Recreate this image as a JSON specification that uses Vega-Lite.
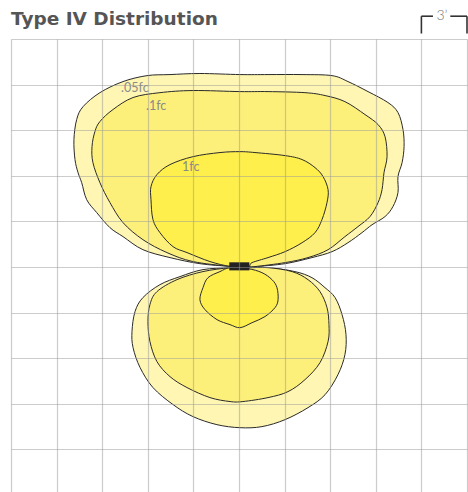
{
  "$schema": "https://vega.github.io/schema/vega-lite/v6.json",
  "width": 456,
  "height": 453,
  "autosize": "none",
  "padding": {"left": 11, "top": 39, "right": 1, "bottom": 0},
  "background": "white",
  "config": {"view": {"stroke": null}},
  "title": {"text": "Type IV Distribution", "anchor": "start", "frame": "group", "fontSize": 18.5, "fontWeight": "bold", "font": "DejaVu Sans", "color": "#555555", "offset": 8, "dy": 27.5},
  "datasets": {
    "contours": [
      {"lv": "0.05", "lobe": "up", "i": 0, "x": -0.6, "y": 0.05},
      {"lv": "0.05", "lobe": "up", "i": 1, "x": -2.57, "y": 0.22},
      {"lv": "0.05", "lobe": "up", "i": 2, "x": -4.54, "y": 0.62},
      {"lv": "0.05", "lobe": "up", "i": 3, "x": -6.32, "y": 1.14},
      {"lv": "0.05", "lobe": "up", "i": 4, "x": -7.63, "y": 2.0},
      {"lv": "0.05", "lobe": "up", "i": 5, "x": -8.49, "y": 2.59},
      {"lv": "0.05", "lobe": "up", "i": 6, "x": -9.36, "y": 3.58},
      {"lv": "0.05", "lobe": "up", "i": 7, "x": -10.02, "y": 4.43},
      {"lv": "0.05", "lobe": "up", "i": 8, "x": -10.35, "y": 5.55},
      {"lv": "0.05", "lobe": "up", "i": 9, "x": -10.59, "y": 6.21},
      {"lv": "0.05", "lobe": "up", "i": 10, "x": -10.79, "y": 7.07},
      {"lv": "0.05", "lobe": "up", "i": 11, "x": -10.86, "y": 8.38},
      {"lv": "0.05", "lobe": "up", "i": 12, "x": -10.68, "y": 9.7},
      {"lv": "0.05", "lobe": "up", "i": 13, "x": -10.26, "y": 10.55},
      {"lv": "0.05", "lobe": "up", "i": 14, "x": -9.15, "y": 11.47},
      {"lv": "0.05", "lobe": "up", "i": 15, "x": -7.63, "y": 12.2},
      {"lv": "0.05", "lobe": "up", "i": 16, "x": -6.05, "y": 12.59},
      {"lv": "0.05", "lobe": "up", "i": 17, "x": -4.54, "y": 12.66},
      {"lv": "0.05", "lobe": "up", "i": 18, "x": -2.57, "y": 12.73},
      {"lv": "0.05", "lobe": "up", "i": 19, "x": 0.07, "y": 12.66},
      {"lv": "0.05", "lobe": "up", "i": 20, "x": 1.91, "y": 12.66},
      {"lv": "0.05", "lobe": "up", "i": 21, "x": 4.15, "y": 12.66},
      {"lv": "0.05", "lobe": "up", "i": 22, "x": 6.12, "y": 12.59},
      {"lv": "0.05", "lobe": "up", "i": 23, "x": 7.17, "y": 12.2},
      {"lv": "0.05", "lobe": "up", "i": 24, "x": 8.49, "y": 11.54},
      {"lv": "0.05", "lobe": "up", "i": 25, "x": 9.8, "y": 10.82},
      {"lv": "0.05", "lobe": "up", "i": 26, "x": 10.46, "y": 10.16},
      {"lv": "0.05", "lobe": "up", "i": 27, "x": 10.79, "y": 9.04},
      {"lv": "0.05", "lobe": "up", "i": 28, "x": 10.86, "y": 7.92},
      {"lv": "0.05", "lobe": "up", "i": 29, "x": 10.73, "y": 6.87},
      {"lv": "0.05", "lobe": "up", "i": 30, "x": 10.46, "y": 5.95},
      {"lv": "0.05", "lobe": "up", "i": 31, "x": 10.46, "y": 4.9},
      {"lv": "0.05", "lobe": "up", "i": 32, "x": 10.13, "y": 3.98},
      {"lv": "0.05", "lobe": "up", "i": 33, "x": 9.61, "y": 3.32},
      {"lv": "0.05", "lobe": "up", "i": 34, "x": 8.75, "y": 2.78},
      {"lv": "0.05", "lobe": "up", "i": 35, "x": 8.09, "y": 2.26},
      {"lv": "0.05", "lobe": "up", "i": 36, "x": 7.17, "y": 1.6},
      {"lv": "0.05", "lobe": "up", "i": 37, "x": 6.12, "y": 1.01},
      {"lv": "0.05", "lobe": "up", "i": 38, "x": 4.8, "y": 0.62},
      {"lv": "0.05", "lobe": "up", "i": 39, "x": 3.03, "y": 0.22},
      {"lv": "0.05", "lobe": "up", "i": 40, "x": 1.05, "y": 0.03},
      {"lv": "0.05", "lobe": "up", "i": 41, "x": 0.6, "y": 0.05},

      {"lv": "0.1", "lobe": "up", "i": 0, "x": -0.6, "y": 0.05},
      {"lv": "0.1", "lobe": "up", "i": 1, "x": -3.03, "y": 0.36},
      {"lv": "0.1", "lobe": "up", "i": 2, "x": -4.74, "y": 0.95},
      {"lv": "0.1", "lobe": "up", "i": 3, "x": -6.32, "y": 1.8},
      {"lv": "0.1", "lobe": "up", "i": 4, "x": -7.63, "y": 2.92},
      {"lv": "0.1", "lobe": "up", "i": 5, "x": -8.49, "y": 4.24},
      {"lv": "0.1", "lobe": "up", "i": 6, "x": -9.15, "y": 5.55},
      {"lv": "0.1", "lobe": "up", "i": 7, "x": -9.61, "y": 6.87},
      {"lv": "0.1", "lobe": "up", "i": 8, "x": -9.67, "y": 7.92},
      {"lv": "0.1", "lobe": "up", "i": 9, "x": -9.48, "y": 8.91},
      {"lv": "0.1", "lobe": "up", "i": 10, "x": -9.15, "y": 9.57},
      {"lv": "0.1", "lobe": "up", "i": 11, "x": -8.29, "y": 10.36},
      {"lv": "0.1", "lobe": "up", "i": 12, "x": -6.97, "y": 11.15},
      {"lv": "0.1", "lobe": "up", "i": 13, "x": -5.2, "y": 11.47},
      {"lv": "0.1", "lobe": "up", "i": 14, "x": -3.03, "y": 11.61},
      {"lv": "0.1", "lobe": "up", "i": 15, "x": 0.07, "y": 11.54},
      {"lv": "0.1", "lobe": "up", "i": 16, "x": 1.91, "y": 11.54},
      {"lv": "0.1", "lobe": "up", "i": 17, "x": 4.34, "y": 11.47},
      {"lv": "0.1", "lobe": "up", "i": 18, "x": 5.66, "y": 11.28},
      {"lv": "0.1", "lobe": "up", "i": 19, "x": 6.97, "y": 10.88},
      {"lv": "0.1", "lobe": "up", "i": 20, "x": 8.29, "y": 10.03},
      {"lv": "0.1", "lobe": "up", "i": 21, "x": 9.15, "y": 9.37},
      {"lv": "0.1", "lobe": "up", "i": 22, "x": 9.61, "y": 8.57},
      {"lv": "0.1", "lobe": "up", "i": 23, "x": 9.74, "y": 7.26},
      {"lv": "0.1", "lobe": "up", "i": 24, "x": 9.54, "y": 6.21},
      {"lv": "0.1", "lobe": "up", "i": 25, "x": 9.41, "y": 5.09},
      {"lv": "0.1", "lobe": "up", "i": 26, "x": 9.15, "y": 4.24},
      {"lv": "0.1", "lobe": "up", "i": 27, "x": 8.62, "y": 3.32},
      {"lv": "0.1", "lobe": "up", "i": 28, "x": 7.83, "y": 2.66},
      {"lv": "0.1", "lobe": "up", "i": 29, "x": 6.97, "y": 2.0},
      {"lv": "0.1", "lobe": "up", "i": 30, "x": 5.86, "y": 1.14},
      {"lv": "0.1", "lobe": "up", "i": 31, "x": 4.54, "y": 0.62},
      {"lv": "0.1", "lobe": "up", "i": 32, "x": 3.03, "y": 0.29},
      {"lv": "0.1", "lobe": "up", "i": 33, "x": 1.05, "y": 0.03},
      {"lv": "0.1", "lobe": "up", "i": 34, "x": 0.6, "y": 0.05},

      {"lv": "1", "lobe": "up", "i": 0, "x": -0.6, "y": 0.05},
      {"lv": "1", "lobe": "up", "i": 1, "x": -1.91, "y": 0.36},
      {"lv": "1", "lobe": "up", "i": 2, "x": -3.42, "y": 0.95},
      {"lv": "1", "lobe": "up", "i": 3, "x": -4.34, "y": 1.34},
      {"lv": "1", "lobe": "up", "i": 4, "x": -5.2, "y": 2.26},
      {"lv": "1", "lobe": "up", "i": 5, "x": -5.66, "y": 3.12},
      {"lv": "1", "lobe": "up", "i": 6, "x": -5.79, "y": 4.43},
      {"lv": "1", "lobe": "up", "i": 7, "x": -5.79, "y": 5.29},
      {"lv": "1", "lobe": "up", "i": 8, "x": -5.4, "y": 6.08},
      {"lv": "1", "lobe": "up", "i": 9, "x": -4.54, "y": 6.74},
      {"lv": "1", "lobe": "up", "i": 10, "x": -3.03, "y": 7.26},
      {"lv": "1", "lobe": "up", "i": 11, "x": -1.25, "y": 7.53},
      {"lv": "1", "lobe": "up", "i": 12, "x": 0.07, "y": 7.59},
      {"lv": "1", "lobe": "up", "i": 13, "x": 1.05, "y": 7.53},
      {"lv": "1", "lobe": "up", "i": 14, "x": 3.03, "y": 7.33},
      {"lv": "1", "lobe": "up", "i": 15, "x": 4.15, "y": 7.07},
      {"lv": "1", "lobe": "up", "i": 16, "x": 5.0, "y": 6.54},
      {"lv": "1", "lobe": "up", "i": 17, "x": 5.53, "y": 5.95},
      {"lv": "1", "lobe": "up", "i": 18, "x": 5.86, "y": 5.09},
      {"lv": "1", "lobe": "up", "i": 19, "x": 5.79, "y": 4.24},
      {"lv": "1", "lobe": "up", "i": 20, "x": 5.46, "y": 3.12},
      {"lv": "1", "lobe": "up", "i": 21, "x": 5.0, "y": 2.26},
      {"lv": "1", "lobe": "up", "i": 22, "x": 4.15, "y": 1.6},
      {"lv": "1", "lobe": "up", "i": 23, "x": 3.03, "y": 1.01},
      {"lv": "1", "lobe": "up", "i": 24, "x": 1.91, "y": 0.62},
      {"lv": "1", "lobe": "up", "i": 25, "x": 0.86, "y": 0.29},
      {"lv": "1", "lobe": "up", "i": 26, "x": 0.6, "y": 0.05},

      {"lv": "0.05", "lobe": "down", "i": 0, "x": -0.6, "y": -0.05},
      {"lv": "0.05", "lobe": "down", "i": 1, "x": -2.37, "y": -0.17},
      {"lv": "0.05", "lobe": "down", "i": 2, "x": -3.88, "y": -0.63},
      {"lv": "0.05", "lobe": "down", "i": 3, "x": -5.2, "y": -1.16},
      {"lv": "0.05", "lobe": "down", "i": 4, "x": -6.32, "y": -2.01},
      {"lv": "0.05", "lobe": "down", "i": 5, "x": -6.84, "y": -2.93},
      {"lv": "0.05", "lobe": "down", "i": 6, "x": -7.04, "y": -4.24},
      {"lv": "0.05", "lobe": "down", "i": 7, "x": -6.97, "y": -5.3},
      {"lv": "0.05", "lobe": "down", "i": 8, "x": -6.51, "y": -6.61},
      {"lv": "0.05", "lobe": "down", "i": 9, "x": -5.66, "y": -7.93},
      {"lv": "0.05", "lobe": "down", "i": 10, "x": -4.34, "y": -9.05},
      {"lv": "0.05", "lobe": "down", "i": 11, "x": -3.03, "y": -9.84},
      {"lv": "0.05", "lobe": "down", "i": 12, "x": -1.45, "y": -10.37},
      {"lv": "0.05", "lobe": "down", "i": 13, "x": 0.07, "y": -10.57},
      {"lv": "0.05", "lobe": "down", "i": 14, "x": 1.51, "y": -10.5},
      {"lv": "0.05", "lobe": "down", "i": 15, "x": 3.03, "y": -10.04},
      {"lv": "0.05", "lobe": "down", "i": 16, "x": 4.54, "y": -9.25},
      {"lv": "0.05", "lobe": "down", "i": 17, "x": 5.66, "y": -8.4},
      {"lv": "0.05", "lobe": "down", "i": 18, "x": 6.51, "y": -7.08},
      {"lv": "0.05", "lobe": "down", "i": 19, "x": 6.97, "y": -5.76},
      {"lv": "0.05", "lobe": "down", "i": 20, "x": 7.04, "y": -4.45},
      {"lv": "0.05", "lobe": "down", "i": 21, "x": 6.78, "y": -3.13},
      {"lv": "0.05", "lobe": "down", "i": 22, "x": 6.32, "y": -2.01},
      {"lv": "0.05", "lobe": "down", "i": 23, "x": 5.66, "y": -1.36},
      {"lv": "0.05", "lobe": "down", "i": 24, "x": 4.8, "y": -0.7},
      {"lv": "0.05", "lobe": "down", "i": 25, "x": 3.68, "y": -0.3},
      {"lv": "0.05", "lobe": "down", "i": 26, "x": 1.91, "y": -0.04},
      {"lv": "0.05", "lobe": "down", "i": 27, "x": 0.6, "y": -0.05},

      {"lv": "0.1", "lobe": "down", "i": 0, "x": -0.6, "y": -0.05},
      {"lv": "0.1", "lobe": "down", "i": 1, "x": -2.37, "y": -0.3},
      {"lv": "0.1", "lobe": "down", "i": 2, "x": -4.08, "y": -0.83},
      {"lv": "0.1", "lobe": "down", "i": 3, "x": -5.4, "y": -1.62},
      {"lv": "0.1", "lobe": "down", "i": 4, "x": -5.86, "y": -2.47},
      {"lv": "0.1", "lobe": "down", "i": 5, "x": -5.99, "y": -3.59},
      {"lv": "0.1", "lobe": "down", "i": 6, "x": -5.86, "y": -4.9},
      {"lv": "0.1", "lobe": "down", "i": 7, "x": -5.4, "y": -6.22},
      {"lv": "0.1", "lobe": "down", "i": 8, "x": -4.54, "y": -7.21},
      {"lv": "0.1", "lobe": "down", "i": 9, "x": -3.42, "y": -7.93},
      {"lv": "0.1", "lobe": "down", "i": 10, "x": -1.91, "y": -8.59},
      {"lv": "0.1", "lobe": "down", "i": 11, "x": -0.59, "y": -8.85},
      {"lv": "0.1", "lobe": "down", "i": 12, "x": 0.26, "y": -8.85},
      {"lv": "0.1", "lobe": "down", "i": 13, "x": 1.91, "y": -8.59},
      {"lv": "0.1", "lobe": "down", "i": 14, "x": 3.22, "y": -8.2},
      {"lv": "0.1", "lobe": "down", "i": 15, "x": 4.34, "y": -7.41},
      {"lv": "0.1", "lobe": "down", "i": 16, "x": 5.33, "y": -6.29},
      {"lv": "0.1", "lobe": "down", "i": 17, "x": 5.86, "y": -4.9},
      {"lv": "0.1", "lobe": "down", "i": 18, "x": 5.92, "y": -3.79},
      {"lv": "0.1", "lobe": "down", "i": 19, "x": 5.79, "y": -2.67},
      {"lv": "0.1", "lobe": "down", "i": 20, "x": 5.33, "y": -1.62},
      {"lv": "0.1", "lobe": "down", "i": 21, "x": 4.54, "y": -0.83},
      {"lv": "0.1", "lobe": "down", "i": 22, "x": 3.49, "y": -0.3},
      {"lv": "0.1", "lobe": "down", "i": 23, "x": 1.91, "y": -0.04},
      {"lv": "0.1", "lobe": "down", "i": 24, "x": 0.6, "y": -0.05},

      {"lv": "1", "lobe": "down", "i": 0, "x": -0.6, "y": -0.05},
      {"lv": "1", "lobe": "down", "i": 1, "x": -1.25, "y": -0.3},
      {"lv": "1", "lobe": "down", "i": 2, "x": -2.04, "y": -0.7},
      {"lv": "1", "lobe": "down", "i": 3, "x": -2.37, "y": -1.36},
      {"lv": "1", "lobe": "down", "i": 4, "x": -2.57, "y": -2.15},
      {"lv": "1", "lobe": "down", "i": 5, "x": -2.24, "y": -2.8},
      {"lv": "1", "lobe": "down", "i": 6, "x": -1.45, "y": -3.46},
      {"lv": "1", "lobe": "down", "i": 7, "x": -0.59, "y": -3.79},
      {"lv": "1", "lobe": "down", "i": 8, "x": 0.07, "y": -3.99},
      {"lv": "1", "lobe": "down", "i": 9, "x": 0.86, "y": -3.66},
      {"lv": "1", "lobe": "down", "i": 10, "x": 1.71, "y": -3.26},
      {"lv": "1", "lobe": "down", "i": 11, "x": 2.37, "y": -2.67},
      {"lv": "1", "lobe": "down", "i": 12, "x": 2.57, "y": -2.15},
      {"lv": "1", "lobe": "down", "i": 13, "x": 2.5, "y": -1.36},
      {"lv": "1", "lobe": "down", "i": 14, "x": 2.17, "y": -0.83},
      {"lv": "1", "lobe": "down", "i": 15, "x": 1.51, "y": -0.37},
      {"lv": "1", "lobe": "down", "i": 16, "x": 0.59, "y": -0.11}
    ],
    "labels": [
      {"t": ".05fc", "x": -7.76, "y": 11.8},
      {"t": ".1fc", "x": -6.12, "y": 10.62},
      {"t": "1fc", "x": -3.75, "y": 6.57}
    ],
    "fixture": [{"x": -0.64, "x2": 0.68, "y": 0.31, "y2": -0.22}],
    "scalebar": [
      {"x": 12, "x2": 12.76, "y": 16.5, "y2": 16.5},
      {"x": 13.9, "x2": 15, "y": 16.5, "y2": 16.5},
      {"x": 12, "x2": 12, "y": 16.5, "y2": 15.36},
      {"x": 15, "x2": 15, "y": 16.5, "y2": 15.36}
    ],
    "scaletext": [{"t": "3’", "x": 13.35, "y": 16.5}]
  },
  "encoding": {
    "x": {"field": "x", "type": "quantitative", "scale": {"domain": [-15, 15], "nice": false, "zero": false},
      "axis": {"values": [-15, -12, -9, -6, -3, 0, 3, 6, 9, 12, 15], "grid": true, "gridColor": "#9a9a9a", "gridOpacity": 0.5, "gridWidth": 1.2, "labels": false, "ticks": false, "domain": false, "title": null, "zindex": 1}},
    "y": {"field": "y", "type": "quantitative", "scale": {"domain": [-14.8, 15], "nice": false, "zero": false},
      "axis": {"values": [-12, -9, -6, -3, 0, 3, 6, 9, 12, 15], "grid": true, "gridColor": "#9a9a9a", "gridOpacity": 0.5, "gridWidth": 1.2, "labels": false, "ticks": false, "domain": false, "title": null, "zindex": 1}}
  },
  "layer": [
    {
      "data": {"name": "contours"},
      "transform": [{"filter": "datum.lv == '0.05'"}],
      "mark": {"type": "line", "fill": "#fef6b2", "stroke": "#2a2a2a", "strokeWidth": 1, "interpolate": "cardinal-closed"},
      "encoding": {"order": {"field": "i", "type": "quantitative"}, "detail": {"field": "lobe"}}
    },
    {
      "data": {"name": "contours"},
      "transform": [{"filter": "datum.lv == '0.1'"}],
      "mark": {"type": "line", "fill": "#fdf07a", "stroke": "#2a2a2a", "strokeWidth": 1, "interpolate": "cardinal-closed"},
      "encoding": {"order": {"field": "i", "type": "quantitative"}, "detail": {"field": "lobe"}}
    },
    {
      "data": {"name": "contours"},
      "transform": [{"filter": "datum.lv == '1'"}],
      "mark": {"type": "line", "fill": "#feef4c", "stroke": "#2a2a2a", "strokeWidth": 1, "interpolate": "cardinal-closed"},
      "encoding": {"order": {"field": "i", "type": "quantitative"}, "detail": {"field": "lobe"}}
    },
    {
      "data": {"name": "fixture"},
      "mark": {"type": "rect", "fill": "#222222"},
      "encoding": {"x2": {"field": "x2"}, "y2": {"field": "y2"}}
    },
    {
      "data": {"name": "labels"},
      "mark": {"type": "text", "align": "left", "baseline": "middle", "fontSize": 12.5, "font": "Lato", "fontWeight": 400, "color": "#8a8a8a"},
      "encoding": {"text": {"field": "t"}}
    },
    {
      "data": {"name": "scalebar"},
      "mark": {"type": "rule", "color": "#333333", "strokeWidth": 1.6},
      "encoding": {"x2": {"field": "x2"}, "y2": {"field": "y2"}}
    },
    {
      "data": {"name": "scaletext"},
      "mark": {"type": "text", "align": "center", "baseline": "middle", "fontSize": 14, "font": "Lato", "fontWeight": 300, "color": "#777777"},
      "encoding": {"text": {"field": "t"}}
    }
  ]
}
